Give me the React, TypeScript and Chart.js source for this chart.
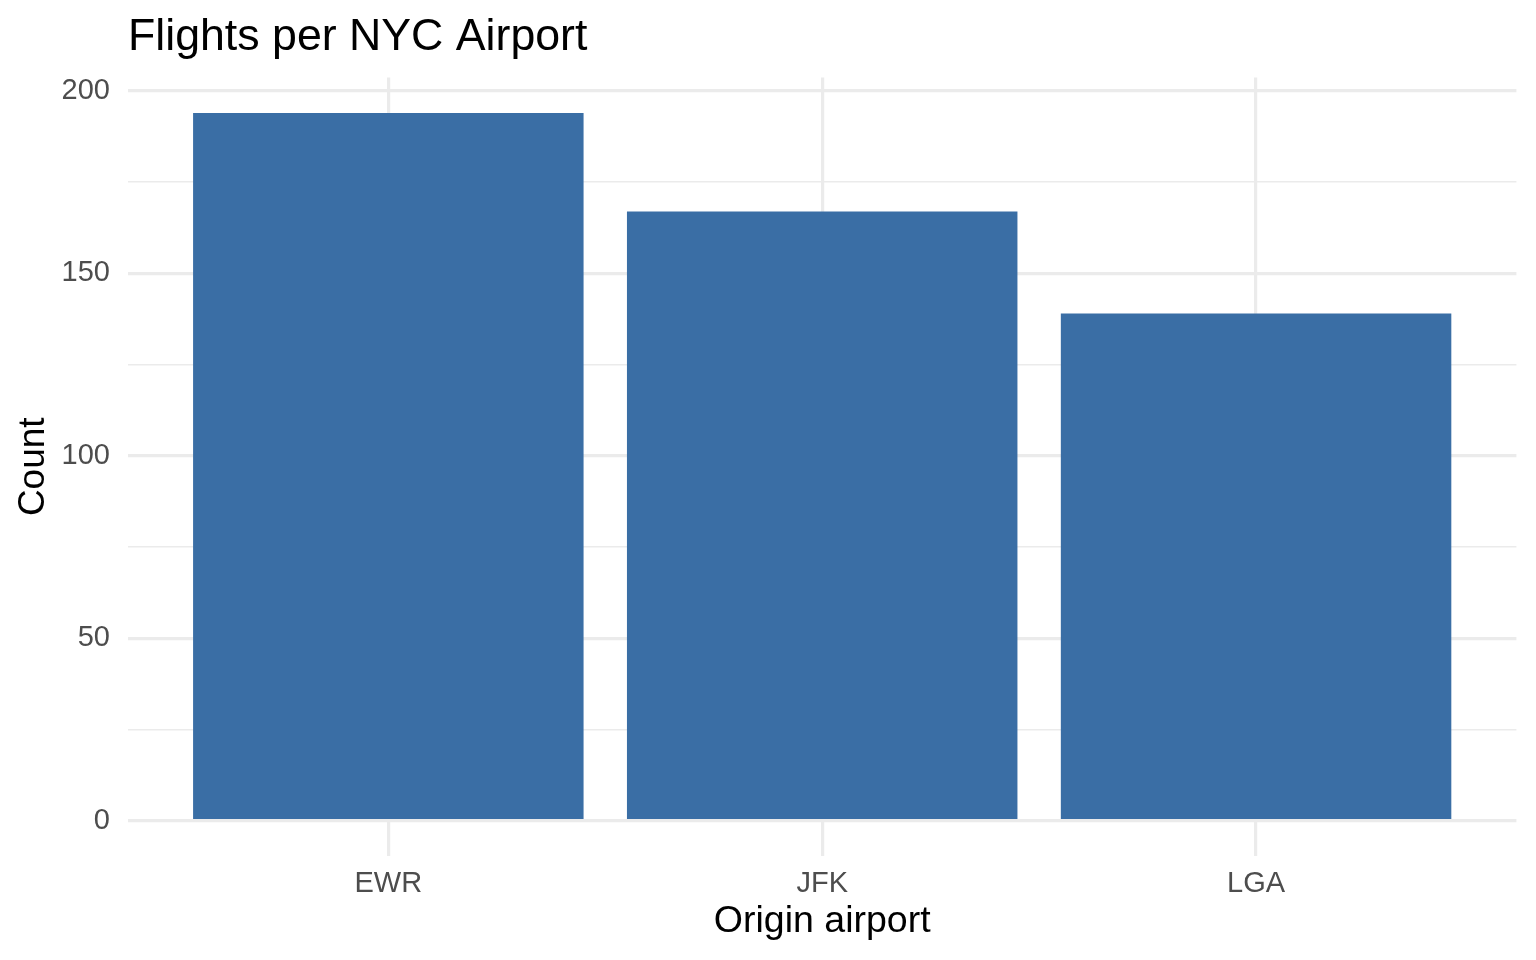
import React, { useEffect, useRef } from "react";
import { Chart, registerables } from "chart.js";

Chart.register(...registerables);

const categories = ["EWR", "JFK", "LGA"];
const counts = [194, 167, 139];
const yTicks = [0, 25, 50, 75, 100, 125, 150, 175, 200];
const xPositions = [1, 2, 3];

const FONT = "'Liberation Sans', Arial, sans-serif";
const GRID = "#EBEBEB";

export default function App() {
  const ref = useRef<HTMLCanvasElement | null>(null);

  useEffect(() => {
    if (!ref.current) return;
    const maxV = Math.max(...counts);
    const chart = new Chart(ref.current, {
      type: "bar",
      data: {
        datasets: [
          {
            label: "Count",
            data: counts.map((v, i) => ({ x: xPositions[i], y: v })),
            backgroundColor: "#3A6EA5",
            borderWidth: 0,
            categoryPercentage: 1,
            barPercentage: 0.9,
          },
        ],
      },
      options: {
        animation: false,
        responsive: true,
        maintainAspectRatio: false,
        layout: { padding: { left: 0, right: 19.6, top: 0, bottom: 0 } },
        plugins: {
          legend: { display: false },
          tooltip: { enabled: false },
          title: {
            display: true,
            text: "Flights per NYC Airport",
            align: "start",
            fullSize: false,
            color: "#000000",
            font: { family: FONT, size: 44.7, weight: "normal", lineHeight: 1 },
            padding: { top: 15.6, bottom: 17.2 },
          },
        },
        scales: {
          x: {
            type: "linear",
            offset: false,
            min: 0.4,
            max: 3.6,
            afterBuildTicks: (scale: any) => {
              scale.ticks = xPositions.map((v) => ({ value: v }));
            },
            afterFit: (scale: any) => {
              scale.height = 104;
            },
            ticks: {
              autoSkip: false,
              padding: 13.5,
              color: "#4D4D4D",
              font: { family: FONT, size: 29, lineHeight: 1 },
              callback: (v: any) => categories[Number(v) - 1] ?? "",
            },
            grid: { color: GRID, lineWidth: 3.2, drawTicks: false, offset: false },
            border: { display: false },
            title: {
              display: true,
              text: "Origin airport",
              color: "#000000",
              font: { family: FONT, size: 37.5, lineHeight: 1 },
              padding: { top: 0, bottom: 19.25 },
            },
          },
          y: {
            type: "linear",
            min: -0.05 * maxV,
            max: maxV * 1.05,
            afterBuildTicks: (scale: any) => {
              scale.ticks = yTicks.map((v) => ({ value: v }));
            },
            afterFit: (scale: any) => {
              scale.width = 128;
            },
            ticks: {
              autoSkip: false,
              padding: 18,
              color: "#4D4D4D",
              font: { family: FONT, size: 29, lineHeight: 1 },
              callback: (v: any) => (Number(v) % 50 === 0 ? String(v) : ""),
            },
            grid: {
              color: GRID,
              lineWidth: (ctx: any) =>
                ctx.tick && ctx.tick.value % 50 === 0 ? 3.2 : 1.6,
              drawTicks: false,
            },
            border: { display: false },
            title: {
              display: true,
              text: "Count",
              color: "#000000",
              font: { family: FONT, size: 37, lineHeight: 1 },
              padding: { top: 15, bottom: 0 },
            },
          },
        },
      },
    });
    return () => chart.destroy();
  }, []);

  return (
    <div
      style={{
        position: "absolute",
        left: 0,
        top: 0,
        width: 1536,
        height: 960,
        background: "#ffffff",
      }}
    >
      <canvas ref={ref} />
    </div>
  );
}
